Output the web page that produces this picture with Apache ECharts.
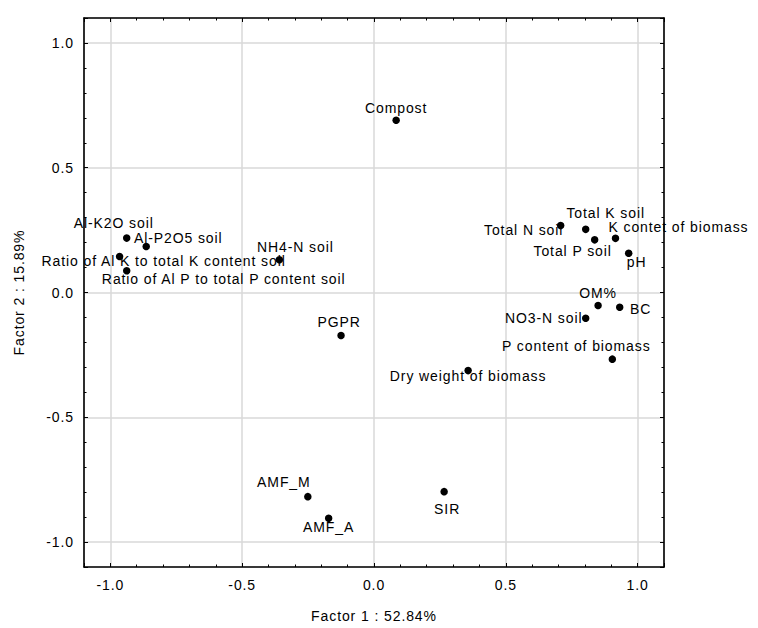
<!DOCTYPE html>
<html><head><meta charset="utf-8">
<script src="https://cdn.jsdelivr.net/npm/echarts@6/dist/echarts.min.js"></script>
<style>html,body{margin:0;padding:0;background:#fff}#c{width:758px;height:628px}#c text{letter-spacing:0.9px}</style>
</head><body><div id="c"></div><script>
// Data (factor loadings)
const names = ["Compost","Al-K2O soil","Al-P2O5 soil","Ratio of Al K to total K content soil","Ratio of Al P to total P content soil","NH4-N soil","PGPR","Total N soil","Total K soil","Total P soil","K contet of biomass","pH","OM%","BC","NO3-N soil","P content of biomass","Dry weight of biomass","AMF_M","AMF_A","SIR"];
const factor1 = [0.084,-0.938,-0.864,-0.965,-0.938,-0.359,-0.125,0.708,0.803,0.837,0.916,0.966,0.850,0.932,0.803,0.904,0.357,-0.251,-0.172,0.266];
const factor2 = [0.690,0.218,0.184,0.144,0.087,0.131,-0.172,0.268,0.253,0.211,0.217,0.157,-0.052,-0.059,-0.103,-0.267,-0.313,-0.818,-0.905,-0.798];
const tickValues = [-1.0,-0.5,0.0,0.5,1.0];
const xName = "Factor 1 : 52.84%";
const yName = "Factor 2 : 15.89%";
// label placement (style): offset of label centre from point
const labelOffsets = [[0,-12],[-13,-15],[32,-9],[44,4],[97,8],[16,-13],[-2,-13],[-37,4],[20,-16],[-22,11],[63,-11],[8,9],[0,-12],[21,2],[-42,0],[-36,-13],[0,5],[-24,-15],[0,9],[3,17]];

const FONT = "'Liberation Sans', Arial, sans-serif";
function fmt(v){
  for (const t of tickValues) if (Math.abs(v - t) < 1e-6) return t.toFixed(1);
  return '';
}
function axis(extra){
  return Object.assign({
    type:'value', min:-1.1, max:1.1, splitNumber:4,
    axisLine:{show:true,onZero:false,lineStyle:{color:'#000',width:1.6}},
    axisTick:{show:true,inside:true,length:4,lineStyle:{color:'#000',width:1}},
    minorTick:{show:true,splitNumber:5,length:2.5,lineStyle:{color:'#000',width:1}},
    splitLine:{show:false},
    axisLabel:{show:false}
  }, extra);
}
const chart = echarts.init(document.getElementById('c'), null, {renderer:'svg'});
const data = names.map((n,i)=>({name:n, value:[factor1[i], factor2[i]], label:{offset:labelOffsets[i]}}));
chart.setOption({
  animation:false,
  backgroundColor:'#fff',
  grid:{left:84,right:94,top:18,bottom:60,containLabel:false},
  xAxis:[
    axis({position:'bottom', name:xName, nameLocation:'middle', nameGap:42,
      nameTextStyle:{color:'#000',fontSize:14,fontFamily:FONT},
      splitLine:{show:true,lineStyle:{color:'#d9d9d9',width:1.5}},
      axisLabel:{show:true,formatter:fmt,color:'#000',fontSize:14,fontFamily:FONT,margin:11}}),
    axis({position:'top'})
  ],
  yAxis:[
    axis({position:'left', name:yName, nameLocation:'middle', nameGap:58, nameRotate:90,
      nameTextStyle:{color:'#000',fontSize:14,fontFamily:FONT},
      splitLine:{show:true,lineStyle:{color:'#d9d9d9',width:1.5}},
      axisLabel:{show:true,formatter:fmt,color:'#000',fontSize:14,fontFamily:FONT,margin:10}}),
    axis({position:'right'})
  ],
  series:[{
    type:'scatter', xAxisIndex:0, yAxisIndex:0,
    symbol:'circle', symbolSize:7.5,
    itemStyle:{color:'#000', opacity:1},
    label:{show:true, position:'inside', formatter:'{b}', color:'#000', fontSize:14, fontFamily:FONT, align:'center', verticalAlign:'middle'},
    emphasis:{disabled:true},
    data:data
  }]
});
</script></body></html>
